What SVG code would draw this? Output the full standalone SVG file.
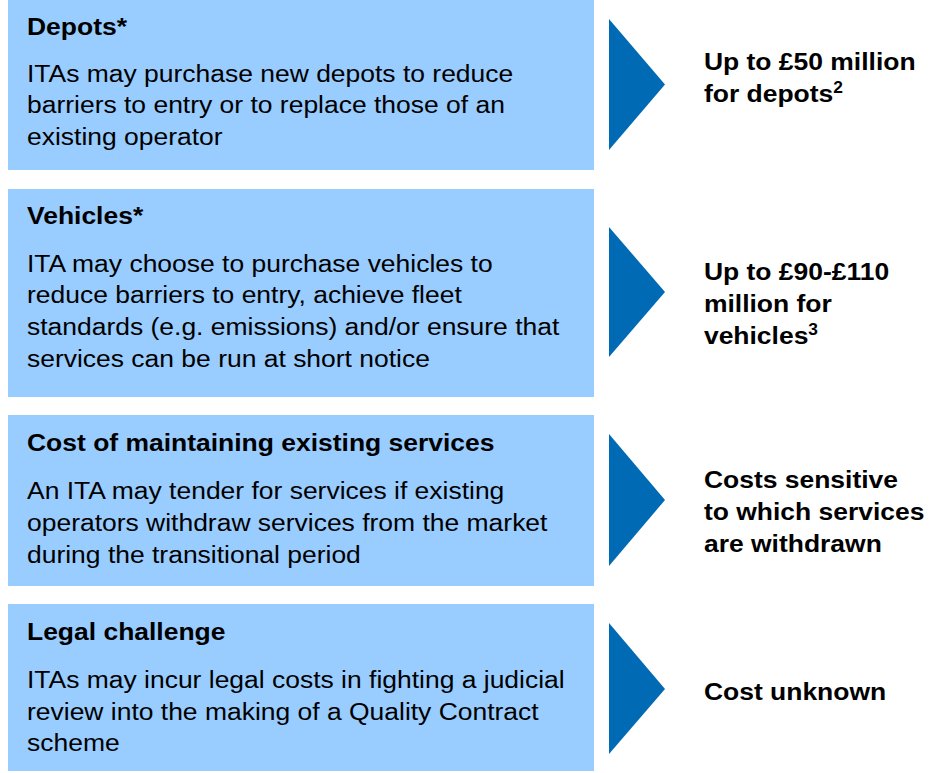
<svg xmlns="http://www.w3.org/2000/svg" width="937" height="773" viewBox="0 0 937 773">
<style>
.box{fill:#99CCFF}
.arr{fill:#006AB4}
text{font-family:"Liberation Sans",Arial,sans-serif;font-size:24.4px;fill:#000}
.b{font-weight:bold}
.sup{font-size:16px}
</style>
<rect width="937" height="773" fill="#fff"/>
<g id="depots">
<rect class="box" x="8" y="0" width="586" height="170"/>
<text class="b" transform="scale(1.085,1)" x="24.9" y="35">Depots*</text>
<text transform="scale(1.085,1)"><tspan x="24.9" y="82">ITAs may purchase new depots to reduce</tspan><tspan x="24.9" y="113.5">barriers to entry or to replace those of an</tspan><tspan x="24.9" y="145">existing operator</tspan></text>
</g>
<g id="vehicles">
<rect class="box" x="8" y="189" width="586" height="208"/>
<text class="b" transform="scale(1.085,1)" x="24.9" y="224">Vehicles*</text>
<text transform="scale(1.085,1)"><tspan x="24.9" y="272">ITA may choose to purchase vehicles to</tspan><tspan x="24.9" y="303.5">reduce barriers to entry, achieve fleet</tspan><tspan x="24.9" y="335.5">standards (e.g. emissions) and/or ensure that</tspan><tspan x="24.9" y="367">services can be run at short notice</tspan></text>
</g>
<g id="maintaining">
<rect class="box" x="8" y="415" width="586" height="171"/>
<text class="b" transform="scale(1.085,1)" x="24.9" y="451">Cost of maintaining existing services</text>
<text transform="scale(1.085,1)"><tspan x="24.9" y="499">An ITA may tender for services if existing</tspan><tspan x="24.9" y="531">operators withdraw services from the market</tspan><tspan x="24.9" y="563">during the transitional period</tspan></text>
</g>
<g id="legal">
<rect class="box" x="8" y="604" width="586" height="167"/>
<text class="b" transform="scale(1.085,1)" x="24.9" y="640">Legal challenge</text>
<text transform="scale(1.085,1)"><tspan x="24.9" y="688">ITAs may incur legal costs in fighting a judicial</tspan><tspan x="24.9" y="720">review into the making of a Quality Contract</tspan><tspan x="24.9" y="751">scheme</tspan></text>
</g>
<g id="connectors">
<polygon class="arr" points="609,19 665,84.5 609,150"/>
<polygon class="arr" points="609,227 665,292 609,357"/>
<polygon class="arr" points="609,434 665,500 609,566"/>
<polygon class="arr" points="609,623 665,689 609,754"/>
</g>
<g id="cost-depots">
<text class="b" transform="scale(1.085,1)"><tspan x="648.8" y="70">Up to £50 million</tspan><tspan x="648.8" y="102.5">for depots</tspan><tspan class="sup" dy="-9">2</tspan></text>
</g>
<g id="cost-vehicles">
<text class="b" transform="scale(1.085,1)"><tspan x="648.8" y="280">Up to £90-£110</tspan><tspan x="648.8" y="312.5">million for</tspan><tspan x="648.8" y="344.5">vehicles</tspan><tspan class="sup" dy="-9">3</tspan></text>
</g>
<g id="cost-services">
<text class="b" transform="scale(1.085,1)"><tspan x="648.8" y="488.5">Costs sensitive</tspan><tspan x="648.8" y="520">to which services</tspan><tspan x="648.8" y="552">are withdrawn</tspan></text>
</g>
<g id="cost-legal">
<text class="b" transform="scale(1.085,1)" x="648.8" y="700">Cost unknown</text>
</g>
</svg>
